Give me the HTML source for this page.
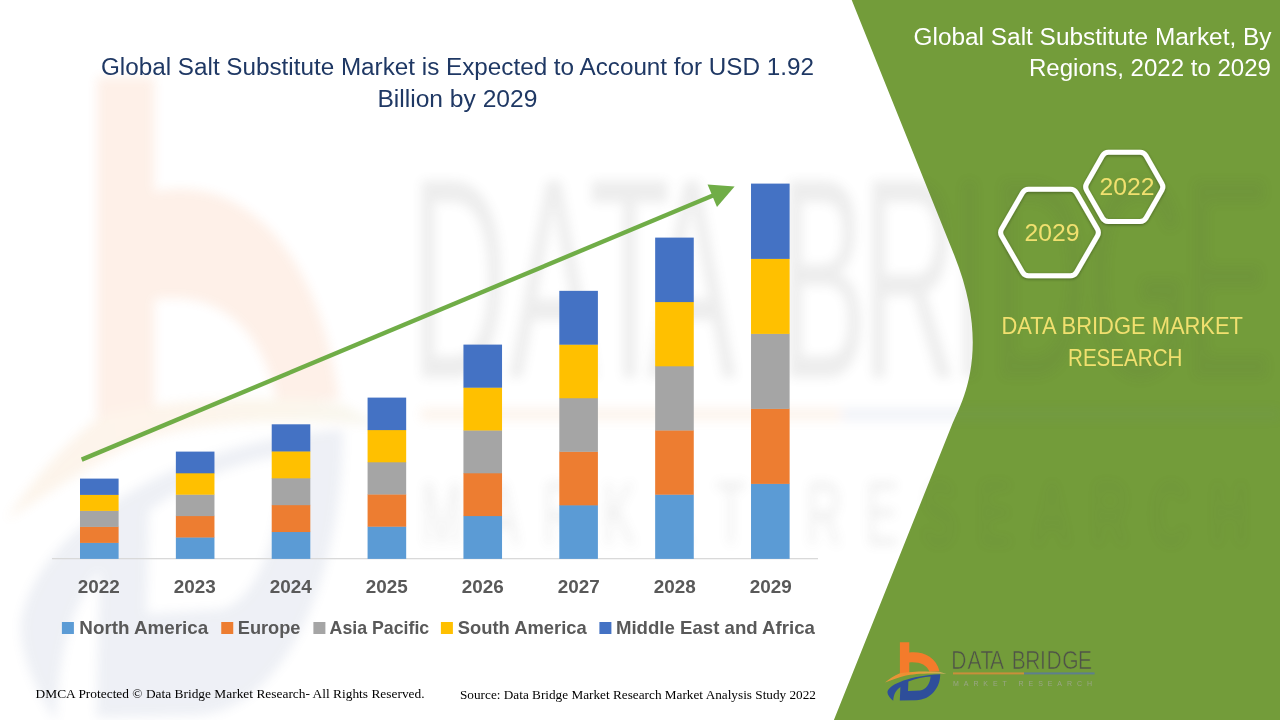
<!DOCTYPE html>
<html>
<head>
<meta charset="utf-8">
<title>Global Salt Substitute Market</title>
<style>
html,body{margin:0;padding:0;background:#fff;}
body{width:1280px;height:720px;overflow:hidden;font-family:"Liberation Sans",sans-serif;}
svg{display:block;position:absolute;left:0;top:0;}
.sans{font-family:"Liberation Sans",sans-serif;}
.serif{font-family:"Liberation Serif",serif;}
</style>
</head>
<body>
<svg width="1280" height="720" viewBox="0 0 1280 720">
<defs>
  <filter id="wmblur" x="-5%" y="-5%" width="110%" height="110%"><feGaussianBlur stdDeviation="5.5"/></filter>
  <filter id="hexshadow" x="-20%" y="-20%" width="140%" height="140%">
    <feGaussianBlur in="SourceAlpha" stdDeviation="1.6" result="b"/>
    <feOffset in="b" dx="0" dy="0.5" result="o"/>
    <feComponentTransfer in="o" result="s"><feFuncA type="linear" slope="0.35"/></feComponentTransfer>
    <feMerge><feMergeNode in="s"/><feMergeNode in="SourceGraphic"/></feMerge>
  </filter>
  <!-- logo mark drawn in an 80x80 box whose origin maps to (876,632) -->
  <linearGradient id="swg" gradientUnits="userSpaceOnUse" x1="9" y1="0" x2="70" y2="0"><stop offset="0" stop-color="#E39A3C"/><stop offset="0.35" stop-color="#EE8E32"/><stop offset="0.75" stop-color="#DDA844"/><stop offset="1" stop-color="#B9AE62"/></linearGradient>
  <g id="mark">
    <path style="fill:var(--c1,#F47B2B)" d="M23.9 10.2 H33.3 V20.6 C46 19 60 24.5 63.6 39.6 L53.4 39.8 C51 32.5 43 29.6 33.3 30.4 V41 L23.9 42.5 Z"/>
    <path fill="url(#swg)" d="M9 50.5 C13 47 18 43.8 24 41.2 C36 39.3 52 39 64.5 40 L70.4 41.9 C54 41 38 41.5 29 43.8 C22 45.8 15 48.3 9 50.5 Z"/>
    <path style="fill:var(--c3,#2E4E9A)" fill-rule="evenodd" d="M11.4 60 C13 52 35 43.4 64.2 42.2 C64.4 55 55 68 40 68.2 L23.8 68.4 L24.4 55 C20 58 17.6 62 17.2 68.8 C14 66 11.4 63 11.4 60 Z M32.4 49.6 C40 46.6 48 45 54.6 44.6 C54 52 50 58 44 58.6 L32 59 Z"/>
  </g>
  <clipPath id="panelclip"><path d="M851.7 0 L954.21 255 C993.61 353 959.1 407 951.9 425 L833.9 720 L1280 720 L1280 0 Z"/></clipPath>
  <g id="wm" filter="url(#wmblur)">
  <g transform="translate(-5392.4 -6987) scale(6.1 11)">
    <g transform="translate(876 632)" style="--c1:#F26A1B;--c3:#53699E"><use href="#mark"/></g>
    <text class="sans" transform="scale(0.84 1)" x="1132.57 1151.72 1167.31 1178.69 1204.33 1220.53 1237.96 1245.84 1264.57 1283.38" y="669.5" font-size="26" fill="#505050">DATABRIDGE</text>
    <rect x="953" y="672.3" width="69" height="1.1" fill="#E9954A"/>
    <rect x="1022" y="672.3" width="72" height="1.1" fill="#6F86B8"/>
    <text class="sans" x="953" y="684.7" font-size="8.2" fill="#5a5a5a" textLength="135.5" lengthAdjust="spacing">MARKET RESEARCH</text>
  </g>
</g>
</defs>

<!-- white background -->
<rect x="0" y="0" width="1280" height="720" fill="#ffffff"/>

<!-- watermark (white area) -->
<use href="#wm" opacity="0.10"/>

<!-- green panel -->
<path id="panel" fill="#739C3A" d="M851.7 0 L954.21 255 C993.61 353 959.1 407 951.9 425 L833.9 720 L1280 720 L1280 0 Z"/>

<!-- watermark (over green, fainter) -->
<use href="#wm" opacity="0.065" clip-path="url(#panelclip)"/>

<!-- left title -->
<g id="title" fill="#1F3864">
  <text class="sans" x="101" y="74.8" font-size="23" textLength="713" lengthAdjust="spacingAndGlyphs">Global Salt Substitute Market is Expected to Account for USD 1.92</text>
  <text class="sans" x="377.4" y="106.8" font-size="23" textLength="160" lengthAdjust="spacingAndGlyphs">Billion by 2029</text>
</g>

<!-- chart -->
<g id="chart">
  <rect x="52" y="558" width="766" height="1.3" fill="#D9D9D9"/>
  <g id="bars">
    <rect x="80.00" y="542.60" width="38.6" height="16.30" fill="#5B9BD5"/>
    <rect x="80.00" y="526.60" width="38.6" height="16.30" fill="#ED7D31"/>
    <rect x="80.00" y="510.60" width="38.6" height="16.30" fill="#A5A5A5"/>
    <rect x="80.00" y="494.60" width="38.6" height="16.30" fill="#FFC000"/>
    <rect x="80.00" y="478.60" width="38.6" height="16.30" fill="#4472C4"/>
    <rect x="175.86" y="537.20" width="38.6" height="21.70" fill="#5B9BD5"/>
    <rect x="175.86" y="515.80" width="38.6" height="21.70" fill="#ED7D31"/>
    <rect x="175.86" y="494.40" width="38.6" height="21.70" fill="#A5A5A5"/>
    <rect x="175.86" y="473.00" width="38.6" height="21.70" fill="#FFC000"/>
    <rect x="175.86" y="451.60" width="38.6" height="21.70" fill="#4472C4"/>
    <rect x="271.72" y="531.74" width="38.6" height="27.16" fill="#5B9BD5"/>
    <rect x="271.72" y="504.88" width="38.6" height="27.16" fill="#ED7D31"/>
    <rect x="271.72" y="478.02" width="38.6" height="27.16" fill="#A5A5A5"/>
    <rect x="271.72" y="451.16" width="38.6" height="27.16" fill="#FFC000"/>
    <rect x="271.72" y="424.30" width="38.6" height="27.16" fill="#4472C4"/>
    <rect x="367.58" y="526.40" width="38.6" height="32.50" fill="#5B9BD5"/>
    <rect x="367.58" y="494.20" width="38.6" height="32.50" fill="#ED7D31"/>
    <rect x="367.58" y="462.00" width="38.6" height="32.50" fill="#A5A5A5"/>
    <rect x="367.58" y="429.80" width="38.6" height="32.50" fill="#FFC000"/>
    <rect x="367.58" y="397.60" width="38.6" height="32.50" fill="#4472C4"/>
    <rect x="463.44" y="515.80" width="38.6" height="43.10" fill="#5B9BD5"/>
    <rect x="463.44" y="473.00" width="38.6" height="43.10" fill="#ED7D31"/>
    <rect x="463.44" y="430.20" width="38.6" height="43.10" fill="#A5A5A5"/>
    <rect x="463.44" y="387.40" width="38.6" height="43.10" fill="#FFC000"/>
    <rect x="463.44" y="344.60" width="38.6" height="43.10" fill="#4472C4"/>
    <rect x="559.30" y="505.05" width="38.6" height="53.85" fill="#5B9BD5"/>
    <rect x="559.30" y="451.50" width="38.6" height="53.85" fill="#ED7D31"/>
    <rect x="559.30" y="397.95" width="38.6" height="53.85" fill="#A5A5A5"/>
    <rect x="559.30" y="344.40" width="38.6" height="53.85" fill="#FFC000"/>
    <rect x="559.30" y="290.85" width="38.6" height="53.85" fill="#4472C4"/>
    <rect x="655.16" y="494.40" width="38.6" height="64.50" fill="#5B9BD5"/>
    <rect x="655.16" y="430.20" width="38.6" height="64.50" fill="#ED7D31"/>
    <rect x="655.16" y="366.00" width="38.6" height="64.50" fill="#A5A5A5"/>
    <rect x="655.16" y="301.80" width="38.6" height="64.50" fill="#FFC000"/>
    <rect x="655.16" y="237.60" width="38.6" height="64.50" fill="#4472C4"/>
    <rect x="751.02" y="483.60" width="38.6" height="75.30" fill="#5B9BD5"/>
    <rect x="751.02" y="408.60" width="38.6" height="75.30" fill="#ED7D31"/>
    <rect x="751.02" y="333.60" width="38.6" height="75.30" fill="#A5A5A5"/>
    <rect x="751.02" y="258.60" width="38.6" height="75.30" fill="#FFC000"/>
    <rect x="751.02" y="183.60" width="38.6" height="75.30" fill="#4472C4"/>
  </g>
  <g id="arrow"><line x1="81.7" y1="459.6" x2="714.12" y2="195.07" stroke="#70AD47" stroke-width="4.4"/><path fill="#70AD47" d="M734.6 186.5 L716.98 207.09 L707.57 184.58 Z"/></g>
  <g id="years">
    <text class="sans" x="98.80" y="593.2" font-size="17.6" font-weight="bold" fill="#595959" text-anchor="middle" textLength="42" lengthAdjust="spacingAndGlyphs">2022</text>
    <text class="sans" x="194.81" y="593.2" font-size="17.6" font-weight="bold" fill="#595959" text-anchor="middle" textLength="42" lengthAdjust="spacingAndGlyphs">2023</text>
    <text class="sans" x="290.82" y="593.2" font-size="17.6" font-weight="bold" fill="#595959" text-anchor="middle" textLength="42" lengthAdjust="spacingAndGlyphs">2024</text>
    <text class="sans" x="386.83" y="593.2" font-size="17.6" font-weight="bold" fill="#595959" text-anchor="middle" textLength="42" lengthAdjust="spacingAndGlyphs">2025</text>
    <text class="sans" x="482.84" y="593.2" font-size="17.6" font-weight="bold" fill="#595959" text-anchor="middle" textLength="42" lengthAdjust="spacingAndGlyphs">2026</text>
    <text class="sans" x="578.85" y="593.2" font-size="17.6" font-weight="bold" fill="#595959" text-anchor="middle" textLength="42" lengthAdjust="spacingAndGlyphs">2027</text>
    <text class="sans" x="674.86" y="593.2" font-size="17.6" font-weight="bold" fill="#595959" text-anchor="middle" textLength="42" lengthAdjust="spacingAndGlyphs">2028</text>
    <text class="sans" x="770.87" y="593.2" font-size="17.6" font-weight="bold" fill="#595959" text-anchor="middle" textLength="42" lengthAdjust="spacingAndGlyphs">2029</text>
  </g>
  <g id="legend">
    <rect x="61.90" y="622" width="12" height="12" fill="#5B9BD5"/>
    <text class="sans" x="79.30" y="633.8" font-size="17.8" font-weight="bold" fill="#595959" textLength="129.00" lengthAdjust="spacingAndGlyphs">North America</text>
    <rect x="221.25" y="622" width="12" height="12" fill="#ED7D31"/>
    <text class="sans" x="237.75" y="633.8" font-size="17.8" font-weight="bold" fill="#595959" textLength="62.75" lengthAdjust="spacingAndGlyphs">Europe</text>
    <rect x="313.40" y="622" width="12" height="12" fill="#A5A5A5"/>
    <text class="sans" x="329.60" y="633.8" font-size="17.8" font-weight="bold" fill="#595959" textLength="99.65" lengthAdjust="spacingAndGlyphs">Asia Pacific</text>
    <rect x="440.90" y="622" width="12" height="12" fill="#FFC000"/>
    <text class="sans" x="457.75" y="633.8" font-size="17.8" font-weight="bold" fill="#595959" textLength="129.00" lengthAdjust="spacingAndGlyphs">South America</text>
    <rect x="599.40" y="622" width="12" height="12" fill="#4472C4"/>
    <text class="sans" x="615.90" y="633.8" font-size="17.8" font-weight="bold" fill="#595959" textLength="199.00" lengthAdjust="spacingAndGlyphs">Middle East and Africa</text>
  </g>
</g>

<!-- footers -->
<g id="footer" fill="#000">
  <text class="serif" x="35.6" y="698" font-size="13.33" textLength="389" lengthAdjust="spacingAndGlyphs">DMCA Protected © Data Bridge Market Research- All Rights Reserved.</text>
  <text class="serif" x="460" y="699" font-size="13.33" textLength="356" lengthAdjust="spacingAndGlyphs">Source: Data Bridge Market Research Market Analysis Study 2022</text>
</g>

<!-- right panel text -->
<g id="rtitle" fill="#ffffff">
  <text class="sans" x="913.5" y="45" font-size="23" textLength="358" lengthAdjust="spacingAndGlyphs">Global Salt Substitute Market, By</text>
  <text class="sans" x="1029" y="76" font-size="23" textLength="242" lengthAdjust="spacingAndGlyphs">Regions, 2022 to 2029</text>
</g>

<!-- hexagons -->
<g id="hex" fill="none" stroke="#ffffff" stroke-width="5" stroke-linejoin="round" filter="url(#hexshadow)">
  <path d="M1097.40 229.04 Q1099.40 232.50 1097.40 235.96 L1076.45 272.24 Q1074.45 275.70 1070.45 275.70 L1028.55 275.70 Q1024.55 275.70 1022.55 272.24 L1001.60 235.96 Q999.60 232.50 1001.60 229.04 L1022.55 192.76 Q1024.55 189.30 1028.55 189.30 L1070.45 189.30 Q1074.45 189.30 1076.45 192.76 Z"/>
  <path d="M1161.86 183.43 Q1163.85 186.90 1161.86 190.37 L1146.04 218.03 Q1144.05 221.50 1140.05 221.50 L1108.45 221.50 Q1104.45 221.50 1102.46 218.03 L1086.64 190.37 Q1084.65 186.90 1086.64 183.43 L1102.46 155.77 Q1104.45 152.30 1108.45 152.30 L1140.05 152.30 Q1144.05 152.30 1146.04 155.77 Z"/>
</g>
<g id="hextext" fill="#F1E06F">
  <text class="sans" x="1051.9" y="240.8" font-size="23.8" text-anchor="middle" textLength="55" lengthAdjust="spacingAndGlyphs">2029</text>
  <text class="sans" x="1126.9" y="195" font-size="23.8" text-anchor="middle" textLength="55" lengthAdjust="spacingAndGlyphs">2022</text>
</g>

<g id="dbmr" fill="#F1E06F">
  <text class="sans" x="1001.5" y="334" font-size="23.8" textLength="241.5" lengthAdjust="spacingAndGlyphs">DATA BRIDGE MARKET</text>
  <text class="sans" x="1068" y="365.6" font-size="23.8" textLength="114.5" lengthAdjust="spacingAndGlyphs">RESEARCH</text>
</g>

<!-- small logo -->
<g id="logo">
  <use href="#mark" transform="translate(876 632)"/>
  <text class="sans" transform="scale(0.84 1)" x="1132.57 1151.72 1167.31 1178.69 1204.33 1220.53 1237.96 1245.84 1264.57 1283.38" y="669.4" font-size="25" fill="#4f5348" stroke="#739C3A" stroke-width="0.55">DATABRIDGE</text>
  <rect x="953" y="672.4" width="71" height="2" fill="#C98F3A"/>
  <rect x="1024" y="672.4" width="70.6" height="2" fill="#5E7F8E"/>
  <text class="sans" x="953" y="686" font-size="7" fill="#9AA686" textLength="139" lengthAdjust="spacing">MARKET RESEARCH</text>
</g>

</svg>
</body>
</html>
